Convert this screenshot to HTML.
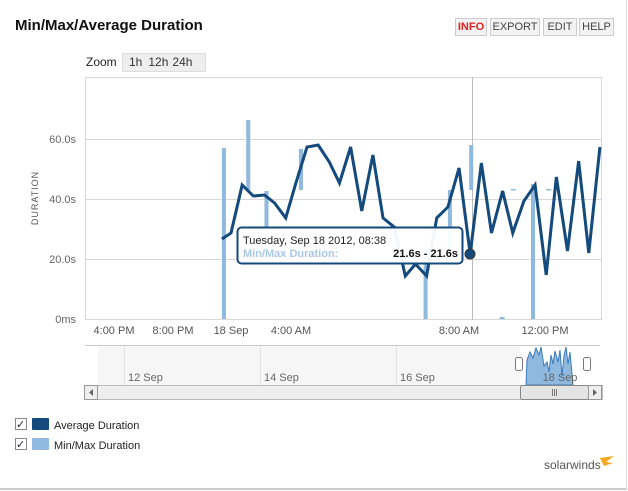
<!DOCTYPE html>
<html><head><style>
body{margin:0;background:#fff;font-family:"Liberation Sans",sans-serif;}
.wrap{position:relative;width:628px;height:491px;overflow:hidden;}
.btn{position:absolute;top:18px;height:16px;border:1px solid #ccc;background:#f3f3f3;font-size:11px;line-height:16px;text-align:center;color:#444;}
</style></head><body><div class="wrap">
<div style="position:absolute;left:0;top:0;width:626px;height:488px;border-right:1px solid #ddd;border-bottom:2px solid #ccc"></div>
<div style="position:absolute;left:15px;top:17px;font-size:15px;font-weight:bold;color:#111">Min/Max/Average Duration</div>
<div class="btn" style="left:455px;width:30px;color:#d22;font-weight:bold">INFO</div>
<div class="btn" style="left:490px;width:48px">EXPORT</div>
<div class="btn" style="left:543px;width:32px">EDIT</div>
<div class="btn" style="left:579px;width:33px">HELP</div>
<div style="position:absolute;left:86px;top:55px;font-size:12px;color:#222">Zoom</div>
<div style="position:absolute;left:122px;top:53px;width:82px;height:17px;background:#eee;border:1px solid #ddd;font-size:12px;line-height:17px;color:#333"><span style="margin-left:6px">1h</span><span style="margin-left:6px">12h</span><span style="margin-left:4px">24h</span></div>
<svg style="position:absolute;left:0;top:0" width="628" height="491" font-family="Liberation Sans, sans-serif">
<g stroke="#d8d8d8" stroke-width="1">
<line x1="85" y1="77.5" x2="602" y2="77.5"/><line x1="85" y1="139.5" x2="602" y2="139.5"/><line x1="85" y1="199.5" x2="602" y2="199.5"/><line x1="85" y1="259.5" x2="602" y2="259.5"/><line x1="85" y1="319.5" x2="602" y2="319.5"/>
<line x1="85.5" y1="77" x2="85.5" y2="320"/><line x1="601.5" y1="77" x2="601.5" y2="320"/>
</g>
<line x1="472.5" y1="77" x2="472.5" y2="320" stroke="#bbb"/>
<g fill="#666" font-size="11" text-anchor="end"><text x="76" y="143">60.0s</text><text x="76" y="203">40.0s</text><text x="76" y="263">20.0s</text><text x="76" y="323">0ms</text></g>
<text x="38" y="198" transform="rotate(-90 38 198)" font-size="9" fill="#555" text-anchor="middle" letter-spacing="1">DURATION</text>
<g fill="#555" font-size="11" text-anchor="middle"><text x="114" y="334">4:00 PM</text><text x="173" y="334">8:00 PM</text><text x="231" y="334">18 Sep</text><text x="291" y="334">4:00 AM</text><text x="459" y="334">8:00 AM</text><text x="545" y="334">12:00 PM</text></g>
<g transform="translate(80,0) scale(1.0135,1) translate(-80,0)">
<g fill="#8fb9de">
<rect x="220" y="148" width="4" height="171"/><rect x="244" y="120" width="4" height="70"/><rect x="262" y="191" width="4" height="40"/><rect x="296" y="149" width="4" height="41"/><rect x="419" y="255" width="4" height="64"/><rect x="443" y="190" width="4" height="60"/><rect x="464" y="145" width="4" height="45"/><rect x="525" y="184" width="4" height="135"/><rect x="505" y="189" width="5" height="1.5"/><rect x="540" y="189" width="5" height="1.5"/><rect x="494" y="317" width="5" height="2"/>
</g>
<polyline fill="none" stroke="#154a7c" stroke-width="3" stroke-linejoin="miter" points="220,239 229,233 240,185 251,196 262,195 272,203 283,218 293,183 304,147 315,145 326,162 336,183 347,147 358,211 369,155 379,218 390,227 401,276 411,264 422,276 432,218 443,207 454,168 465,254 476,163 486,233 497,191 507,233 518,201 529,185 540,275 550,177 561,251 572,161 582,253 593,147"/>
</g>
<circle cx="470" cy="254" r="5" fill="#154a7c" stroke="#333" stroke-width="1"/>
<rect x="237.5" y="227.5" width="225" height="36" rx="4" fill="#fff" fill-opacity="0.95" stroke="#154a7c" stroke-width="2"/>
<text x="243" y="244" font-size="11" fill="#222">Tuesday, Sep 18 2012, 08:38</text>
<text x="243" y="257" font-size="11" font-weight="bold" fill="#a9c8e4">Min/Max Duration:</text>
<text x="458" y="257" font-size="11" font-weight="bold" fill="#111" text-anchor="end">21.6s - 21.6s</text>
<rect x="98" y="345.5" width="330" height="40" fill="#f6f6f6"/>
<rect x="428" y="345.5" width="92" height="40" fill="#f6f6f6"/>
<line x1="85" y1="345.5" x2="600" y2="345.5" stroke="#ccc"/>
<g stroke="#e2e2e2"><line x1="124.5" y1="346" x2="124.5" y2="385"/><line x1="260.5" y1="346" x2="260.5" y2="385"/><line x1="396.5" y1="346" x2="396.5" y2="385"/></g>
<g fill="#666" font-size="11"><text x="128" y="381">12 Sep</text><text x="264" y="381">14 Sep</text><text x="400" y="381">16 Sep</text></g>
<path d="M526,385 L527,360 L530,352 L533,358 L536,348 L539,355 L541,347 L544,366 L547,362 L549,372 L551,355 L553,364 L555,351 L558,362 L560,350 L562,376 L564,356 L566,347 L568,364 L570,352 L573,385 Z" fill="#8fb9de" stroke="#3a7bbd" stroke-width="1"/>
<text x="560" y="381" font-size="11" fill="#666" text-anchor="middle">18 Sep</text>
<rect x="515.5" y="357.5" width="7" height="13" rx="2" fill="#fff" stroke="#777"/>
<rect x="583.5" y="357.5" width="7" height="13" rx="2" fill="#fff" stroke="#777"/>
<rect x="84.5" y="385.5" width="518" height="14" fill="#eee" stroke="#bbb"/>
<rect x="84.5" y="385.5" width="13" height="14" fill="#eee" stroke="#999"/>
<path d="M93,389 L89,392.5 L93,396 Z" fill="#666"/>
<rect x="520.5" y="385.5" width="68" height="14" rx="2" fill="#e4e4e4" stroke="#888"/>
<g stroke="#777"><line x1="552.5" y1="389" x2="552.5" y2="396"/><line x1="554.5" y1="389" x2="554.5" y2="396"/><line x1="556.5" y1="389" x2="556.5" y2="396"/></g>
<rect x="588.5" y="385.5" width="13" height="14" fill="#eee" stroke="#999"/>
<path d="M593,389 L597,392.5 L593,396 Z" fill="#666"/>
<rect x="15.5" y="418.5" width="11" height="11" fill="#fff" stroke="#888"/><text x="16" y="428" font-size="11" fill="#223">✓</text>
<rect x="32" y="418" width="17" height="12" rx="1" fill="#154a7c"/>
<text x="54" y="429" font-size="11" fill="#222">Average Duration</text>
<rect x="15.5" y="438.5" width="11" height="11" fill="#fff" stroke="#888"/><text x="16" y="448" font-size="11" fill="#223">✓</text>
<rect x="32" y="438" width="17" height="12" rx="1" fill="#8fb9de"/>
<text x="54" y="449" font-size="11" fill="#222">Min/Max Duration</text>
<text x="544" y="469" font-size="12" fill="#555">solarwinds</text>
<path d="M600,458 L614,456 L606,462 L613,463 L604,466 Z" fill="#f5a623"/>
</svg>
</div></body></html>
